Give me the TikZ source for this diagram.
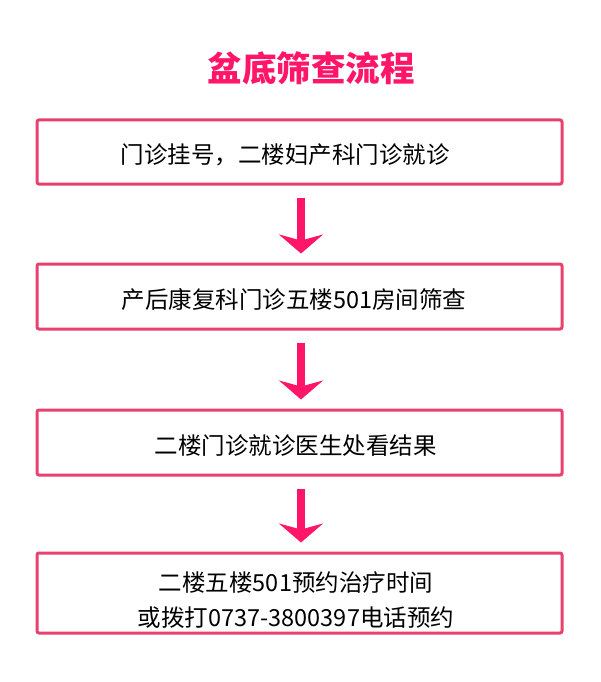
\documentclass[tikz,border=0pt]{standalone}
\usepackage{fontspec}
\newfontfamily\cjk{Noto Sans CJK SC}
\usetikzlibrary{arrows.meta}
\definecolor{boxpink}{HTML}{E8416F}
\definecolor{hotpink}{HTML}{FF1668}
\tikzset{
  stepbox/.style={draw=boxpink, line width=3pt, rounded corners=2pt, minimum width=525pt, inner sep=0pt},
  steptext/.style={font=\cjk\fontsize{23.5pt}{35pt}\selectfont, text=black, inner sep=0pt, align=center},
  flowarrow/.style={draw=hotpink, line width=7.5pt, -{Stealth[length=19pt,width=44pt,inset=6pt,fill=hotpink]}},
}
\begin{document}
\begin{tikzpicture}[x=1pt,y=-1pt]
\useasboundingbox[fill=white] (0,0) rectangle (600,682);
\node[font=\cjk\bfseries\fontsize{34.5pt}{40pt}\selectfont, text=hotpink, inner sep=0pt] (title) at (311,68) {盆底筛查流程};
\node[stepbox, minimum height=64pt] (b1) at (299.5,152) {};
\node[stepbox, minimum height=65pt] (b2) at (299.5,296.5) {};
\node[stepbox, minimum height=65pt] (b3) at (299.5,442.5) {};
\node[stepbox, minimum height=80pt] (b4) at (299.5,593) {};
\node[steptext] (t1) at (285,155) {门诊挂号，二楼妇产科门诊就诊};
\node[steptext] (t2) at (294,300) {产后康复科门诊五楼501房间筛查};
\node[steptext] (t3) at (295.5,446) {二楼门诊就诊医生处看结果};
\node[steptext] (t4) at (296,600) {二楼五楼501预约治疗时间\\或拨打0737-3800397电话预约};
\draw[flowarrow] ([xshift=1.5pt,yshift=-12pt]b1.south) -- ([xshift=1.5pt,yshift=9pt]b2.north);
\draw[flowarrow] ([xshift=1.5pt,yshift=-12pt]b2.south) -- ([xshift=1.5pt,yshift=9pt]b3.north);
\draw[flowarrow] ([xshift=1.5pt,yshift=-12pt]b3.south) -- ([xshift=1.5pt,yshift=9pt]b4.north);
\end{tikzpicture}
\end{document}
